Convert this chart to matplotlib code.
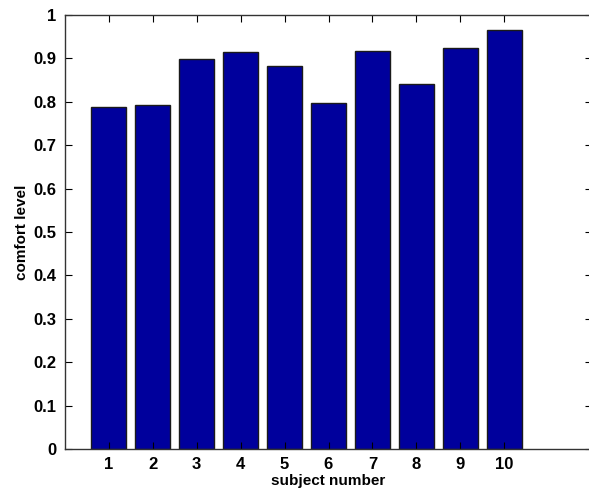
import matplotlib
matplotlib.use("Agg")
import matplotlib.pyplot as plt

# comfort level per subject
subjects = [1, 2, 3, 4, 5, 6, 7, 8, 9, 10]
comfort = [0.788, 0.793, 0.898, 0.915, 0.883, 0.797, 0.916, 0.842, 0.924, 0.966]
yticks = [0, 0.1, 0.2, 0.3, 0.4, 0.5, 0.6, 0.7, 0.8, 0.9, 1]
ytick_labels = ["0", "0.1", "0.2", "0.3", "0.4", "0.5", "0.6", "0.7", "0.8", "0.9", "1"]

plt.rcParams['font.family'] = ['Liberation Sans Narrow', 'Liberation Sans', 'DejaVu Sans']
plt.rcParams['font.weight'] = 'bold'

fig = plt.figure(figsize=(5.89, 4.90), dpi=100)
# right edge of the box sits just past the image border, like the original
ax = fig.add_axes([65 / 589, 41 / 490, 527 / 589, 434 / 490])

ax.bar(subjects, comfort, width=0.8, color='#00009c', edgecolor='#1a1a1a', linewidth=1.0)

ax.set_xlim(0, 12)
ax.set_ylim(0, 1)
ax.set_xticks(subjects)
ax.set_xticklabels([str(s) for s in subjects], fontsize=12, fontweight='bold')
ax.set_yticks(yticks)
ax.set_yticklabels(ytick_labels, fontsize=12, fontweight='bold')

ax.tick_params(direction='in', length=5, width=0.8, top=True, right=True, pad=6)
for s in ax.spines.values():
    s.set_linewidth(1.0)
    s.set_color('#333333')

ax.set_xlabel('subject number', fontsize=11, fontweight='bold', labelpad=1)
ax.set_ylabel('comfort level', fontsize=11, fontweight='bold', labelpad=3)

fig.savefig('out.png', dpi=100)
